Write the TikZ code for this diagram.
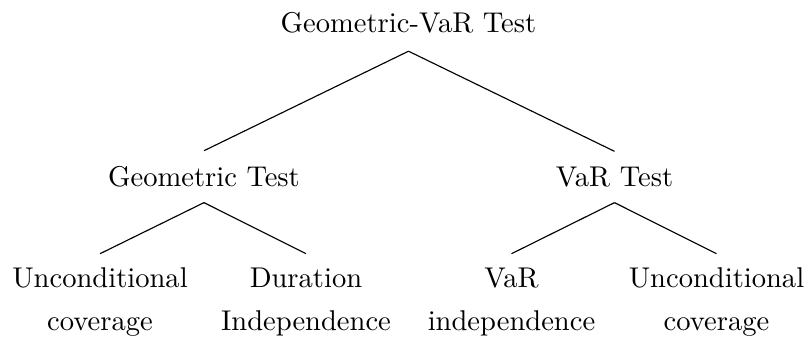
\documentclass[tikz,border=0pt]{standalone}
\begin{document}
\begin{tikzpicture}[x=0.35pt,y=-0.35pt,
  lbl/.style={anchor=base,inner sep=0pt},
  leaf/.style={anchor=base,inner sep=0pt},
  edge/.style={draw=black,line width=0.4pt}]
\useasboundingbox (0,0) rectangle (810,338);
\node[lbl] (root) at (408.5,33) {Geometric-VaR Test};
\node[lbl] (geo) at (204,186) {Geometric Test};
\node[lbl] (var) at (614.5,186) {VaR Test};
\node[leaf] (l1) at (100,287) {\begin{tabular}[t]{@{}c@{}}Unconditional\\[3.2pt]coverage\end{tabular}};
\node[leaf] (l2) at (306,287) {\begin{tabular}[t]{@{}c@{}}Duration\\[3.2pt]Independence\end{tabular}};
\node[leaf] (l3) at (511.5,287) {\begin{tabular}[t]{@{}c@{}}VaR\\[3.2pt]independence\end{tabular}};
\node[leaf] (l4) at (716.5,287) {\begin{tabular}[t]{@{}c@{}}Unconditional\\[3.2pt]coverage\end{tabular}};
\draw[edge] ([yshift=-5.95pt]root.south) -- ([yshift=5.1pt]geo.north);
\draw[edge] ([yshift=-5.95pt]root.south) -- ([yshift=5.1pt]var.north);
\draw[edge] ([yshift=-5.4pt]geo.south) -- ([yshift=3.05pt]l1.north);
\draw[edge] ([yshift=-5.4pt]geo.south) -- ([yshift=3.05pt]l2.north);
\draw[edge] ([yshift=-5.4pt]var.south) -- ([yshift=3.05pt]l3.north);
\draw[edge] ([yshift=-5.4pt]var.south) -- ([yshift=3.05pt]l4.north);
\end{tikzpicture}
\end{document}
